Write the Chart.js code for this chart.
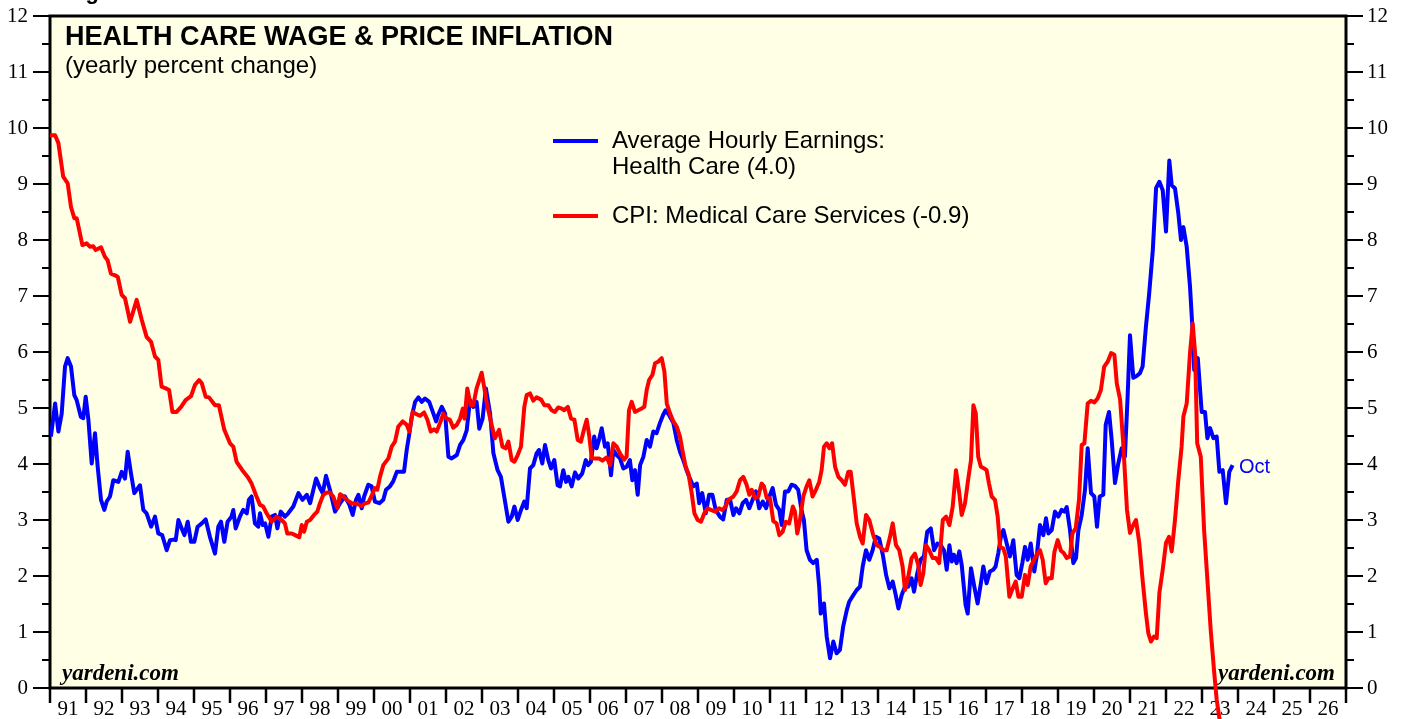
<!DOCTYPE html>
<html>
<head>
<meta charset="utf-8">
<script src="https://cdn.jsdelivr.net/npm/chart.js@4.4.0/dist/chart.umd.min.js"></script>
<style>
  html, body { margin: 0; padding: 0; background: #fff; }
  #wrap { width: 1405px; height: 719px; }
</style>
</head>
<body>
<div id="wrap"><canvas id="chart" width="1405" height="719"></canvas></div>
<script>
// x = months since Jan 1991, y = yearly percent change
const yearLabels = ["91","92","93","94","95","96","97","98","99","00","01","02","03","04","05","06","07","08","09","10","11","12","13","14","15","16","17","18","19","20","21","22","23","24","25","26"];
const yTicks = [0,1,2,3,4,5,6,7,8,9,10,11,12];

const wagePoints = [
  [0.3,4.49],[1.7,5.08],[2.8,4.58],[3.9,4.90],[5,5.74],[5.9,5.89],[7,5.74],[8.1,5.23],[8.9,5.14],[10.3,4.84],[11.1,4.82],[11.9,5.20],[12.8,4.79],[13.9,4.01],[15,4.55],[15.9,3.95],[17,3.36],[18.1,3.18],[18.9,3.33],[20,3.42],[21.1,3.71],[22.8,3.68],[23.9,3.86],[25,3.74],[25.9,4.22],[27,3.83],[28.1,3.48],[30,3.62],[31.1,3.18],[32.2,3.12],[33.7,2.88],[35,3.06],[36.1,2.76],[37.4,2.73],[38.9,2.46],[40,2.64],[41.1,2.65],[41.9,2.64],[42.8,3.00],[43.9,2.85],[44.8,2.73],[45.9,2.97],[47,2.61],[48.1,2.61],[49.2,2.88],[50.6,2.94],[51.9,3.01],[53.3,2.70],[55,2.40],[56.1,2.88],[57,2.97],[58.1,2.61],[59.2,2.97],[60.5,3.06],[61.1,3.18],[61.9,2.85],[63.3,3.06],[64.4,3.18],[65.6,3.12],[66.3,3.36],[67.2,3.42],[68.3,2.94],[69.4,2.88],
  [70,3.12],[70.9,2.91],[71.7,2.94],[72.8,2.70],[73.9,3.06],[75,3.09],[75.8,2.85],[76.9,3.15],[78.3,3.06],[79.4,3.12],[81.1,3.24],[82.8,3.48],[84.2,3.36],[85.6,3.45],[86.7,3.30],[88.7,3.74],[90,3.57],[90.9,3.48],[92,3.79],[93.3,3.54],[95,3.15],[96.7,3.30],[98.3,3.42],[99.8,3.27],[100.9,3.09],[102,3.36],[102.8,3.45],[103.9,3.21],[104.7,3.42],[106.1,3.63],[107.2,3.60],[108.3,3.33],[109.8,3.30],[111.1,3.36],[112,3.54],[113.3,3.60],[114.4,3.69],[115.6,3.86],[116.7,3.86],[118,3.86],[118.9,4.25],[119.8,4.55],[120.6,4.85],[121.7,5.11],[122.8,5.19],[123.9,5.11],[125,5.17],[126.4,5.11],[127.6,4.93],[128.7,4.76],[129.4,4.88],[130.6,5.02],[131.7,4.90],[132.8,4.13],[133.9,4.10],[135.6,4.16],[136.7,4.34],[137.8,4.43],[138.9,4.60],[140,5.14],[141.1,5.02],[142.2,5.11],[143.1,4.63],[144.2,4.81],[145.3,5.35],[146.7,4.90],[147.8,4.19],
  [149.2,3.89],[150.3,3.77],[151.4,3.42],[152.8,2.97],[153.9,3.06],[154.8,3.24],[155.9,3.00],[157,3.18],[158.1,3.33],[158.9,3.21],[160,3.92],[161.1,3.98],[162.2,4.19],[163,4.25],[164.1,4.01],[165,4.34],[166.1,4.07],[167,3.92],[168.1,4.07],[169.2,3.62],[170,3.60],[171.1,3.89],[172,3.68],[172.8,3.77],[173.9,3.60],[175,3.85],[176.1,3.74],[177.4,3.83],[178.6,4.07],[179.4,3.98],[180.3,4.04],[181.4,4.49],[182.2,4.28],[183,4.43],[183.9,4.64],[185,4.31],[185.9,4.37],[187,3.80],[187.8,4.25],[188.9,4.16],[190,4.10],[191.1,3.92],[192.2,3.95],[193.3,4.07],[194.1,3.71],[195,3.89],[195.9,3.45],[196.7,3.98],[197.8,4.13],[198.9,4.43],[200,4.31],[201.1,4.58],[202.2,4.55],[203.3,4.73],[204.4,4.88],[205.2,4.96],[206.3,4.88],[207.8,4.73],[208.9,4.43],[210,4.22],[211.1,4.07],[212.2,3.89],[213.3,3.74],[214.4,3.60],[215.6,3.65],[216.4,3.30],[217.4,3.48],[218.6,3.12],[219.7,3.45],[220.8,3.45],[221.9,3.18],[223.3,3.06],[224.4,3.01],[225.6,3.36],
  [226.7,3.36],[227.8,3.09],[228.7,3.21],[229.8,3.12],[230.9,3.30],[232,3.36],[233.1,3.21],[234.2,3.36],[235.3,3.51],[236.4,3.21],[237.6,3.33],[238.7,3.21],[239.8,3.42],[240.9,3.57],[242,3.27],[243.1,3.18],[243.9,2.91],[245,3.51],[246.1,3.51],[247.2,3.63],[248.3,3.61],[249.4,3.54],[250.6,3.15],[251.3,3.00],[252.2,2.46],[253.3,2.29],[254.4,2.23],[255.6,2.29],[256.4,1.81],[256.9,1.33],[258,1.51],[258.9,0.92],[260,0.53],[261.1,0.83],[262.2,0.62],[263.3,0.68],[264.4,1.10],[265.6,1.39],[266.4,1.54],[267.8,1.66],[268.9,1.75],[270,1.81],[270.9,2.17],[272,2.46],[273.1,2.29],[274.2,2.46],[275.3,2.70],[276.4,2.67],[277.6,2.38],[278.7,2.02],[279.8,1.78],[280.9,1.90],[281.8,1.69],[282.8,1.42],[283.9,1.66],[285,1.81],[286.1,1.81],[287.2,1.96],[288,1.72],[289.1,2.05],[290.2,2.29],[291.3,2.35],[292.4,2.79],[293.6,2.85],[294.7,2.46],[295.8,2.58],[296.9,2.55],[298,2.46],[298.9,2.11],[299.8,2.55],[300.6,2.26],[301.3,2.38],[302.2,2.23],[303.1,2.44],[303.9,2.20],[305.2,1.48],[305.9,1.33],
  [307,2.14],[308.1,1.81],[309.2,1.51],[310.3,1.87],[311.1,2.17],[312.2,1.87],[313.3,2.08],[314.4,2.11],[315.2,2.17],[316.1,2.41],[317,2.71],[317.8,2.82],[318.9,2.58],[320,2.35],[321.1,2.64],[322.2,2.02],[323.1,1.96],[324.1,2.23],[325,2.52],[325.9,2.29],[326.9,2.58],[328.1,2.08],[328.9,2.35],[330,2.91],[331.1,2.73],[332,3.03],[332.8,2.76],[333.9,2.82],[335,3.15],[336.1,3.06],[337.2,3.18],[338.1,3.15],[338.9,3.23],[340,2.82],[341.1,2.23],[342,2.32],[342.8,2.82],[343.9,3.09],[345,3.54],[345.9,4.28],[347,3.48],[348.1,3.42],[349,2.88],[349.9,3.42],[351.1,3.45],[351.9,4.70],[353,4.93],[353.9,4.43],[355,3.66],[356.1,4.01],[357.2,4.28],[358.3,4.13],[359.2,5.20],[360,6.30],
  [361.1,5.54],[362.2,5.57],[363.3,5.62],[364.2,5.74],[365.3,6.45],[366.4,7.05],[367.6,7.82],[368.7,8.93],[369.8,9.04],[370.9,8.89],[372,8.15],[373.1,9.42],[373.9,8.98],[375,8.92],[376.1,8.48],[377,8.00],[377.8,8.23],[378.9,7.88],[380,7.17],[380.9,6.34],[381.4,5.68],[382.6,5.89],[383.9,4.93],[385,4.93],[385.8,4.46],[386.7,4.64],[387.8,4.46],[388.9,4.49],[389.8,3.86],[390.9,3.89],[392,3.30],[393.1,3.86],[394.2,3.98]
];

const cpiPoints = [
  [0,9.87],[1.7,9.87],[2.8,9.73],[4.4,9.13],[5.9,9.01],[7,8.59],[8.1,8.39],[8.9,8.39],[10.8,7.91],[12.2,7.94],[13.3,7.88],[14.4,7.89],[15.2,7.82],[17,7.87],[18.3,7.70],[19.2,7.64],[20.3,7.40],[21.7,7.37],[22.6,7.34],[23.9,7.02],[25,6.96],[26.7,6.54],[28.9,6.93],[30.6,6.57],[32.2,6.27],[33.7,6.18],[35,5.92],[36.1,5.86],[37.2,5.38],[38.6,5.35],[39.7,5.32],[40.8,4.93],[42.2,4.93],[43.7,5.02],[45.2,5.14],[47,5.21],[48.3,5.41],[49.7,5.50],[50.6,5.44],[51.9,5.20],[53,5.19],[55,5.05],[56.3,5.05],[58.1,4.61],[60,4.37],[61.1,4.31],[62.2,4.04],[64.1,3.89],[65.9,3.77],[67.2,3.65],[68.6,3.45],
  [70,3.27],[71.1,3.24],[72.2,3.12],[73.9,2.97],[75.6,3.06],[77.2,3.00],[78.3,2.94],[79.1,2.76],[80.6,2.76],[81.7,2.73],[83.1,2.69],[83.9,2.91],[84.7,2.79],[85.6,2.97],[86.7,3.00],[88,3.09],[89.1,3.15],[90,3.30],[91.1,3.45],[92.2,3.49],[93.3,3.49],[94.4,3.42],[95.8,3.21],[96.7,3.46],[97.8,3.42],[99.1,3.35],[100.6,3.30],[102.2,3.29],[103.9,3.25],[105,3.30],[106.1,3.31],[107.2,3.43],[108.3,3.57],[109.1,3.54],[110,3.77],[111.1,3.98],[112.8,4.10],[113.9,4.31],[115,4.40],[116.1,4.67],[117.6,4.76],[118.9,4.70],[119.8,4.58],[120.9,4.93],[122.2,4.89],[123.3,4.86],[124.7,4.92],[125.8,4.79],[126.9,4.58],[128,4.62],[128.9,4.58],[130,4.73],[131.1,4.90],[132.2,4.81],[133.3,4.79],[134.4,4.65],[135.6,4.70],[136.7,4.81],[137.6,4.99],[138.2,4.81],[139.1,5.35],[140.2,5.05],[141.1,5.05],[142.2,5.35],[143.9,5.63],[144.7,5.38],[145.6,5.08],[147.2,4.70],
  [148.3,4.46],[149.7,4.61],[150.8,4.31],[151.9,4.28],[152.8,4.40],[153.9,4.07],[154.8,4.04],[155.9,4.16],[157,4.31],[158.1,5.02],[158.9,5.23],[160,5.26],[161.1,5.13],[162.2,5.19],[163.7,5.15],[164.8,5.05],[166.1,5.05],[167.2,4.96],[168.3,4.93],[169.4,5.01],[170.6,4.99],[171.4,4.96],[172.6,5.02],[173.7,4.81],[174.8,4.79],[175.9,4.43],[177,4.40],[178.1,4.64],[178.9,4.79],[179.7,4.52],[180.6,4.10],[181.7,4.10],[183,4.10],[184.1,4.06],[185.6,4.12],[186.7,3.98],[187.8,4.37],[188.9,4.31],[190.3,4.16],[191.4,4.08],[192.2,4.13],[193,4.96],[193.9,5.11],[195,4.93],[196.1,4.96],[197.2,4.99],[198.1,5.02],[198.9,5.32],[199.7,5.50],[200.8,5.59],[201.7,5.80],[202.8,5.83],[203.9,5.89],[204.8,5.65],[205.6,5.08],[206.7,4.90],[207.8,4.76],[208.9,4.67],[210,4.49],[210.8,4.25],[211.9,3.95],[212.8,3.83],[213.9,3.48],[214.8,3.12],[215.9,3.00],[217,2.97],[218.1,3.12],[219.2,3.21],[220.3,3.18],[221.7,3.15],[223,3.21],[224.1,3.18],[225.2,3.24],[226.1,3.36],
  [227.8,3.42],[228.9,3.51],[230,3.71],[231.1,3.77],[232.2,3.63],[233.1,3.45],[233.9,3.54],[235,3.39],[236.1,3.42],[237.2,3.65],[238,3.60],[238.9,3.39],[240,3.39],[241.1,2.98],[242.2,2.94],[243.1,2.73],[244.2,2.79],[245.3,2.97],[246.4,2.94],[247.6,3.24],[248.3,3.15],[249.1,2.76],[250,3.00],[251.1,3.42],[252.2,3.60],[253.1,3.71],[254.2,3.42],[255.3,3.54],[256.4,3.68],[257.2,3.89],[258,4.31],[258.9,4.37],[259.8,4.28],[260.7,4.37],[261.7,3.95],[262.8,3.77],[263.9,3.71],[265,3.63],[266.1,3.86],[266.9,3.86],[268,3.36],[268.9,2.94],[270,2.70],[270.9,2.58],[272,3.09],[273.1,3.00],[274.4,2.73],[275.6,2.55],[276.7,2.52],[277.8,2.46],[278.9,2.46],[280,2.70],[280.9,2.94],[282,2.55],[283.1,2.46],[284.2,2.17],[285,1.75],[286.1,1.99],[287.2,2.32],[288.3,2.40],[289.4,2.20],[290.2,1.84],[291.1,2.05],[292,2.55],[293.1,2.46],[294.2,2.32],[295.3,2.32],[296.4,2.23],[297.6,3.00],[298.7,3.06],[299.8,2.91],[300.9,3.24],[302,3.89],[303.1,3.48],[303.9,3.09],
  [305,3.30],[306.1,3.74],[307,4.07],[307.8,5.05],[308.6,4.90],[309.4,4.13],[310.3,3.95],[311.4,3.92],[312.2,3.89],[313,3.65],[313.9,3.42],[315,3.36],[315.9,3.06],[316.7,2.52],[317.8,2.49],[318.6,2.35],[319.8,1.63],[320.9,1.78],[321.9,1.90],[322.8,1.63],[323.9,1.63],[325,2.02],[325.9,1.84],[326.9,2.17],[328,2.29],[329.2,2.41],[330,2.46],[330.9,2.29],[331.9,1.87],[332.8,1.96],[333.9,1.96],[334.8,2.43],[335.9,2.64],[337,2.45],[337.9,2.41],[338.9,2.32],[340,2.35],[340.8,2.76],[341.9,2.85],[343,3.36],[343.9,4.34],[344.8,4.37],[345.9,5.08],[347,5.13],[348.1,5.10],[349.2,5.17],[350.3,5.32],[351.4,5.74],[352.6,5.83],[353.7,5.98],[354.8,5.95],[355.6,5.44],[356.7,5.15],[357.7,4.40],[359,3.18],[360,2.77],[361.1,2.91],[362,3.00],[363.1,2.59],[364.2,1.93],[365.3,1.34],[366.1,0.98],[367,0.83],[368,0.92],[368.9,0.89],[369.8,1.70],[370.9,2.11],[372,2.59],[373,2.70],[373.9,2.44],[375,3.00],[376.1,3.71],[377.2,4.31],[377.8,4.85],[378.9,5.08],[380,5.98],[380.9,6.51],[381.7,5.98],[382.4,4.37],[383.6,4.13],[384.7,2.82],[385.8,1.93],[386.9,1.04],[388,0.32],[388.9,-0.21],[389.8,-0.54],[391,-0.75],[393,-0.90]
];

const BLUE = "#0000ff";
const RED = "#ff0000";
const serif = "Liberation Serif";
const sans = "Liberation Sans";

function toXY(points) {
  return points.map(p => ({ x: p[0], y: p[1] }));
}

const decor = {
  id: "decor",
  beforeDraw(chart) {
    const { ctx, chartArea: a } = chart;
    ctx.save();
    ctx.fillStyle = "#ffffe6";
    ctx.fillRect(a.left, a.top, a.right - a.left, a.bottom - a.top);
    ctx.restore();
  },
  beforeDatasetsDraw(chart) {
    const { ctx, chartArea: a, scales } = chart;
    const line = (x1, y1, x2, y2) => {
      ctx.beginPath();
      ctx.moveTo(x1, y1);
      ctx.lineTo(x2, y2);
      ctx.stroke();
    };
    ctx.save();
    ctx.strokeStyle = "#000";

    // y tick marks, both sides, majors and halves
    ctx.lineWidth = 2;
    for (let v = 0; v <= 12; v += 0.5) {
      const py = scales.y.getPixelForValue(v);
      const len = v % 1 === 0 ? 17 : 8;
      line(a.left - len, py, a.left, py);
      line(a.right, py, a.right + len, py);
    }
    // year tick marks below the axis
    ctx.lineWidth = 2.5;
    for (let i = 0; i <= yearLabels.length; i++) {
      const px = scales.x.getPixelForValue(i * 12);
      line(px, a.bottom, px, a.bottom + 15);
    }
    // frame
    ctx.lineWidth = 3;
    ctx.strokeRect(a.left, a.top, a.right - a.left, a.bottom - a.top);

    // texts
    ctx.fillStyle = "#000";
    ctx.textBaseline = "alphabetic";
    ctx.font = "bold 22px " + sans;
    ctx.fillText("Figure 5.", 66, -1);
    ctx.font = "bold 27px " + sans;
    ctx.fillText("HEALTH CARE WAGE & PRICE INFLATION", 65, 45);
    ctx.font = "24px " + sans;
    ctx.fillText("(yearly percent change)", 65, 73);

    ctx.font = "italic bold 23px " + serif;
    ctx.fillText("yardeni.com", 62, 680);
    ctx.textAlign = "right";
    ctx.fillText("yardeni.com", 1335, 680);
    ctx.textAlign = "left";

    // legend
    const legendRows = [[141, 167], [216]];
    ctx.font = "24px " + sans;
    ctx.textBaseline = "middle";
    chart.data.datasets.forEach((ds, i) => {
      const rows = legendRows[i];
      const labels = [].concat(ds.label);
      ctx.strokeStyle = ds.borderColor;
      ctx.lineWidth = 4;
      line(553, rows[0], 598, rows[0]);
      ctx.fillStyle = "#000";
      labels.forEach((t, j) => ctx.fillText(t, 612, rows[j]));
    });

    ctx.fillStyle = BLUE;
    ctx.font = "20px " + sans;
    ctx.fillText("Oct", 1239, 467);
    ctx.restore();
  }
};

const tickFont = { family: serif, size: 21 };

new Chart(document.getElementById("chart"), {
  type: "line",
  data: {
    datasets: [
      {
        label: ["Average Hourly Earnings:", "Health Care (4.0)"],
        data: toXY(wagePoints),
        borderColor: BLUE,
        borderWidth: 4,
        pointRadius: 0,
        tension: 0,
        borderJoinStyle: "round",
        order: 1
      },
      {
        label: "CPI: Medical Care Services (-0.9)",
        data: toXY(cpiPoints),
        borderColor: RED,
        borderWidth: 4,
        pointRadius: 0,
        tension: 0,
        borderJoinStyle: "round",
        clip: false,
        order: 0
      }
    ]
  },
  options: {
    responsive: false,
    animation: false,
    devicePixelRatio: 1,
    layout: { padding: { top: 16, left: 0, right: 0, bottom: 0 } },
    plugins: { legend: { display: false }, tooltip: { enabled: false } },
    scales: {
      x: {
        type: "linear",
        min: 0,
        max: yearLabels.length * 12,
        grid: { display: false, drawTicks: true, tickLength: 9 },
        border: { display: false },
        afterBuildTicks: s => { s.ticks = yearLabels.map((_, i) => ({ value: i * 12 + 6 })); },
        afterFit: s => { s.height = 31; },
        ticks: {
          autoSkip: false,
          maxRotation: 0,
          padding: 0,
          color: "#000",
          font: tickFont,
          callback: (v, i) => yearLabels[i]
        }
      },
      y: {
        position: "left",
        min: 0,
        max: 12,
        grid: { display: false, drawTicks: true, tickLength: 22 },
        border: { display: false },
        afterBuildTicks: s => { s.ticks = yTicks.map(v => ({ value: v })); },
        afterFit: s => { s.width = 50; },
        ticks: { padding: 0, color: "#000", font: tickFont }
      },
      y2: {
        position: "right",
        min: 0,
        max: 12,
        grid: { display: false, drawTicks: true, tickLength: 21 },
        border: { display: false },
        afterBuildTicks: s => { s.ticks = yTicks.map(v => ({ value: v })); },
        afterFit: s => { s.width = 59; },
        ticks: { padding: 0, color: "#000", font: tickFont }
      }
    }
  },
  plugins: [decor]
});
</script>
</body>
</html>
